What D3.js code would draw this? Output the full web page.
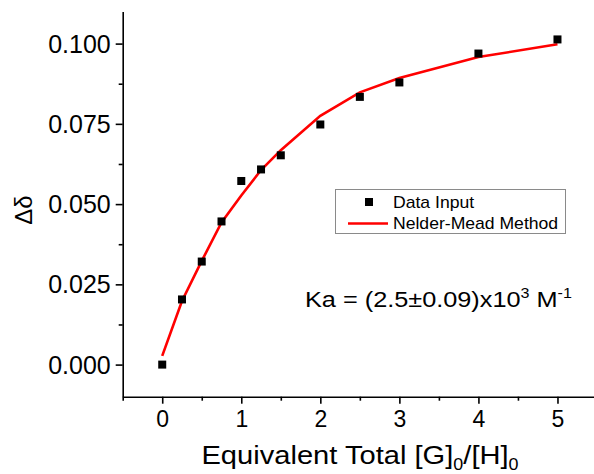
<!DOCTYPE html>
<html>
<head>
<meta charset="utf-8">
<script src="https://cdn.jsdelivr.net/npm/d3@7"></script>
<style>
  html, body { margin: 0; padding: 0; background: #fff; }
  svg { display: block; }
  text { font-family: 'Liberation Sans', Arial, sans-serif; }
</style>
</head>
<body>
<svg id="vis" width="594" height="474"></svg>
<script>
// ratio [G]0/[H]0 and measured shifts
const xValues = [0, 0.25, 0.5, 0.75, 1.0, 1.25, 1.5, 2.0, 2.5, 3.0, 4.0, 5.0];
const dataInput = [0.0000, 0.0203, 0.0321, 0.0446, 0.0572, 0.0608, 0.0652, 0.0748, 0.0834, 0.0879, 0.0969, 0.1013];
const fitValues = [0.0027, 0.0198, 0.0323, 0.0443, 0.0527, 0.0606, 0.0668, 0.0775, 0.0848, 0.0893, 0.0958, 0.0998];
const xTicks = [0, 1, 2, 3, 4, 5];
const xMinorTicks = [-0.5, 0.5, 1.5, 2.5, 3.5, 4.5, 5.5];
const yTicks = [0.000, 0.025, 0.050, 0.075, 0.100];
const yMinorTicks = [0.0125, 0.0375, 0.0625, 0.0875];

const v_margin = { top: 11.5, left: 122.7 };
const width = 6 * 79.05;
const height = 385.2;

const svg = d3.select('#vis');
const v_svg = svg
    .append('g')
    .attr('transform', 'translate(' + v_margin.left + ', ' + v_margin.top + ')');

const xScale = d3.scaleLinear().domain([-0.5, 5.5]).range([0, width]);
const yScale = d3.scaleLinear().domain([-0.01, 0.11]).range([height, 0]);

// minor ticks first, major on top
v_svg.append('g')
    .attr('transform', 'translate(0, ' + height + ')')
    .call(d3.axisBottom(xScale).tickValues(xMinorTicks).tickSize(4).tickSizeOuter(0).tickFormat(''))
    .call(g => g.select('.domain').remove());
v_svg.append('g')
    .call(d3.axisLeft(yScale).tickValues(yMinorTicks).tickSize(4).tickSizeOuter(0).tickFormat(''))
    .call(g => g.select('.domain').remove());

const xAxis = v_svg.append('g')
    .attr('class', 'x-axis')
    .attr('transform', 'translate(0, ' + height + ')')
    .call(d3.axisBottom(xScale).tickValues(xTicks).tickSize(7).tickSizeOuter(0).tickPadding(7).tickFormat(d3.format('d')));
xAxis.selectAll('text').attr('font-size', '23px').attr('fill', '#000');

const yAxis = v_svg.append('g')
    .attr('class', 'y-axis')
    .call(d3.axisLeft(yScale).tickValues(yTicks).tickSize(7).tickSizeOuter(0).tickPadding(5).tickFormat(d3.format('.3f')));
yAxis.selectAll('text').attr('font-size', '25px').attr('fill', '#000').attr('dy', '0.34em');

v_svg.selectAll('.domain, .tick line').attr('stroke', '#000').attr('stroke-width', 1.6);
v_svg.selectAll('g').attr('font-family', null);

// fit line
const line = d3.line()
    .x((d, i) => xScale(xValues[i]))
    .y(d => yScale(d));
v_svg.append('path')
    .datum(fitValues)
    .attr('d', line)
    .attr('fill', 'none')
    .attr('stroke', '#ff0000')
    .attr('stroke-width', 2.6);

// data points
v_svg.selectAll('rect.pt')
    .data(dataInput)
    .enter()
    .append('rect')
    .attr('class', 'pt')
    .attr('x', (d, i) => xScale(xValues[i]) - 4)
    .attr('y', d => yScale(d) - 4)
    .attr('width', 8)
    .attr('height', 8)
    .attr('fill', '#000');

// legend
const legend = svg.append('g');
legend.append('rect')
    .attr('x', 335.5).attr('y', 189.5).attr('width', 230).attr('height', 44)
    .attr('fill', '#fff').attr('stroke', '#8a8a8a').attr('stroke-width', 1);
legend.append('rect')
    .attr('x', 365).attr('y', 198).attr('width', 8).attr('height', 8).attr('fill', '#000');
legend.append('line')
    .attr('x1', 348).attr('x2', 388).attr('y1', 223.5).attr('y2', 223.5)
    .attr('stroke', '#ff0000').attr('stroke-width', 2.6);
legend.append('text').attr('transform', 'translate(393, 207.5) scale(1.1, 1)').attr('font-size', '16px').text('Data Input');
legend.append('text').attr('transform', 'translate(393, 229) scale(1.1, 1)').attr('font-size', '16px').text('Nelder-Mead Method');

// Ka annotation
const ka = svg.append('text').attr('transform', 'translate(305, 307) scale(1.15, 1)').attr('font-size', '22px');
ka.append('tspan').text('Ka = (2.5\u00B10.09)x10');
ka.append('tspan').attr('font-size', '14px').attr('dy', -9).text('3');
ka.append('tspan').attr('dy', 9).text(' M');
ka.append('tspan').attr('font-size', '14px').attr('dy', -9).text('-1');

// axis titles
const xt = svg.append('text')
    .attr('transform', 'translate(360, 464) scale(1.12, 1)')
    .attr('text-anchor', 'middle')
    .attr('font-size', '26px');
xt.append('tspan').text('Equivalent Total [G]');
xt.append('tspan').attr('font-size', '16px').attr('dy', 6).text('0');
xt.append('tspan').attr('dy', -6).text('/[H]');
xt.append('tspan').attr('font-size', '16px').attr('dy', 6).text('0');

svg.append('text')
    .attr('transform', 'translate(32, 210) rotate(-90)')
    .attr('text-anchor', 'middle')
    .attr('font-size', '24px')
    .text('\u0394\u03B4');
</script>
</body>
</html>
